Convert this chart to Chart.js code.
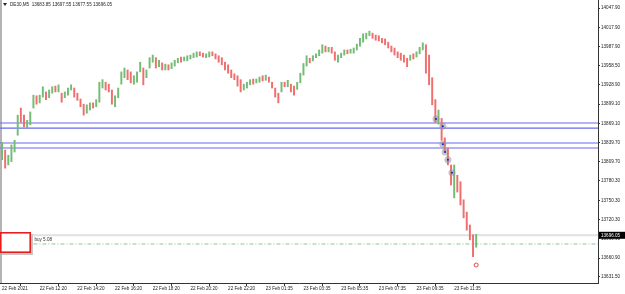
<!DOCTYPE html>
<html>
<head>
<meta charset="utf-8">
<script src="https://cdn.jsdelivr.net/npm/chart.js@4"></script>
<style>
  html, body { margin: 0; padding: 0; background: #fff; }
  canvas { display: block; }
</style>
</head>
<body>
<canvas id="chart" width="625" height="294"></canvas>
<script>
// DE30 M5 bars (prices)
var symbol = 'DE30,M5';
var firstOpen = 13815;

var highs = [
  13840,13828,13820,13836,13843,13882,13893,13882,13874,13887,
  13913,13912,13913,13926,13918,13921,13926,13927,13929,13916,
  13918,13924,13929,13924,13916,13907,13899,13898,13901,13901,
  13906,13933,13937,13933,13930,13921,13912,13924,13949,13955,
  13952,13949,13943,13949,13964,13955,13952,13971,13975,13971,
  13967,13963,13961,13960,13963,13967,13970,13972,13972,13974,
  13975,13978,13980,13980,13978,13977,13980,13980,13977,13974,
  13971,13964,13960,13952,13946,13943,13937,13930,13933,13937,
  13938,13938,13941,13943,13944,13941,13933,13924,13916,13933,
  13933,13936,13930,13927,13933,13947,13962,13974,13970,13974,
  13977,13983,13991,13989,13987,13987,13980,13975,13978,13983,
  13983,13984,13986,13992,14001,14008,14009,14012,14009,14006,
  14005,14001,14000,13995,13989,13986,13980,13978,13975,13970,
  13975,13977,13980,13987,13994,13991,13975,13940,13906,13890,
  13877,13847,13831,13805,13805,13789,13779,13751,13732,13712,
  13697,13697.55
];
var lows = [
  13813,13800,13805,13810,13825,13851,13871,13864,13862,13867,
  13893,13899,13901,13910,13906,13909,13916,13918,13918,13902,
  13909,13913,13921,13910,13905,13895,13882,13885,13890,13893,
  13895,13902,13924,13921,13918,13899,13895,13909,13930,13940,
  13937,13932,13930,13933,13949,13929,13940,13955,13964,13955,
  13957,13952,13952,13952,13954,13958,13963,13964,13966,13966,
  13969,13971,13972,13974,13972,13971,13972,13974,13969,13964,
  13960,13952,13947,13940,13937,13927,13918,13921,13924,13929,
  13930,13932,13933,13935,13936,13933,13924,13910,13901,13918,
  13926,13926,13918,13913,13922,13932,13944,13958,13963,13966,
  13971,13974,13978,13980,13980,13978,13967,13964,13971,13975,
  13977,13978,13978,13983,13989,13995,14000,14005,14001,13998,
  13997,13994,13991,13986,13980,13975,13971,13967,13964,13957,
  13967,13969,13972,13977,13983,13947,13929,13898,13871,13868,
  13843,13825,13805,13774,13754,13763,13743,13723,13704,13689,
  13663,13677.55
];
var closes = [
  13825,13806,13815,13830,13838,13878,13875,13868,13872,13884,
  13908,13902,13905,13922,13910,13918,13923,13920,13926,13905,
  13915,13921,13925,13914,13907,13898,13886,13893,13897,13895,
  13904,13930,13933,13925,13920,13902,13908,13920,13945,13950,
  13940,13935,13940,13946,13958,13932,13948,13966,13968,13958,
  13962,13955,13958,13955,13960,13965,13968,13967,13970,13972,
  13973,13976,13978,13976,13974,13975,13978,13976,13971,13966,
  13962,13954,13949,13942,13939,13930,13922,13928,13931,13934,
  13932,13936,13939,13937,13942,13935,13926,13912,13905,13930,
  13928,13933,13921,13916,13930,13944,13959,13968,13965,13972,
  13975,13981,13987,13983,13985,13980,13969,13973,13976,13981,
  13979,13982,13984,13990,13998,14005,14007,14008,14003,14000,
  13999,13996,13993,13988,13982,13977,13973,13970,13966,13960,
  13972,13970,13976,13985,13990,13950,13932,13902,13875,13885,
  13848,13830,13808,13778,13796,13768,13748,13727,13708,13692,
  13683.85,13696.05
];

var xLabels = ['22 Feb 2021','22 Feb 12:20','22 Feb 14:20','22 Feb 16:20','22 Feb 18:20',
  '22 Feb 20:20','22 Feb 22:20','23 Feb 01:35','23 Feb 03:35','23 Feb 05:35',
  '23 Feb 07:35','23 Feb 09:35','23 Feb 11:35'];
var xLabelBars = [0,12,24,36,48,60,72,84,96,108,120,132,144];

var yTicks = [14047.90,14017.90,13987.90,13958.50,13928.90,13899.10,13869.10,13839.70,
  13809.70,13780.30,13750.30,13720.30,13690.90,13660.90,13631.50];

// horizontal levels drawn on the chart
var blueLevels = [13869.9, 13862.1, 13838.9, 13831.2];
var buyLevel = 13682.6;
var buyLabel = 'buy 5.08';
var buyStartBar = 10;

// trade markers
var markerBars = [138.2, 140.4, 140.4, 141.1, 142, 143.3];
var markerPrices = [13876, 13865, 13837, 13825, 13813, 13793];
var exitBar = 151;
var exitPrice = 13650;

var xMin = -0.64, xMax = 189.8;
var yMin = 13622.2, yMax = 14060.3;

var FONT = 'Liberation Sans';
var last = closes.length - 1;

var bars = [], barColors = [];
for (var i = 0; i < highs.length; i++) {
  var open = i === 0 ? firstOpen : closes[i - 1];
  bars.push({ x: i, y: [lows[i], highs[i]] });
  barColors.push(closes[i] >= open ? 'rgb(115,188,115)' : 'rgb(240,110,110)');
}

function hline(price, from) {
  return [{ x: from, y: price }, { x: xMax, y: price }];
}

var datasets = [
  {
    type: 'bar',
    data: bars,
    backgroundColor: barColors,
    barThickness: 1.3,
    grouped: false,
    order: 1
  }
];
blueLevels.forEach(function (p) {
  datasets.push({
    type: 'line', data: hline(p, xMin), borderColor: 'rgb(105,105,245)',
    borderWidth: 1.2, pointRadius: 0, order: 3
  });
});
datasets.push({
  type: 'line', data: hline(closes[last], xMin), borderColor: 'rgb(225,225,225)',
  borderWidth: 2, pointRadius: 0, order: 4
});
datasets.push({
  type: 'line', data: hline(buyLevel, buyStartBar), borderColor: 'rgb(140,200,140)',
  borderWidth: 1, borderDash: [4, 2, 1, 2], pointRadius: 0, order: 3
});
datasets.push({
  type: 'scatter',
  data: markerBars.map(function (b, i) { return { x: b, y: markerPrices[i] }; }),
  pointRadius: 3.5, pointBackgroundColor: 'rgba(150,150,150,0.55)',
  pointBorderWidth: 0, order: 0
});
datasets.push({
  type: 'scatter',
  data: markerBars.map(function (b, i) { return { x: b, y: markerPrices[i] }; }),
  pointRadius: 1, pointBackgroundColor: 'rgb(30,30,200)',
  pointBorderWidth: 0, order: -1
});
datasets.push({
  type: 'scatter',
  data: [{ x: exitBar, y: exitPrice }],
  pointRadius: 2, pointBackgroundColor: 'rgba(255,255,255,1)',
  pointBorderColor: 'rgb(230,70,70)', pointBorderWidth: 1, order: 0
});

var overlay = {
  id: 'overlay',
  beforeDraw: function (chart) {
    var c = chart.ctx;
    c.save();
    c.fillStyle = '#b4b4b4';
    c.fillRect(0, 0, 2, chart.chartArea.bottom);
    c.restore();
  },
  afterDraw: function (chart) {
    var c = chart.ctx, x = chart.scales.x, y = chart.scales.y;
    c.save();
    // header
    c.fillStyle = '#222';
    c.beginPath();
    c.moveTo(3, 3); c.lineTo(7, 3); c.lineTo(5, 6); c.closePath(); c.fill();
    c.font = '4.6px ' + FONT;
    c.textBaseline = 'middle';
    var o = closes[last - 1];
    c.fillText(symbol + '  ' + o.toFixed(2) + ' ' + highs[last].toFixed(2) + ' ' +
      lows[last].toFixed(2) + ' ' + closes[last].toFixed(2), 10, 4.5);

    // buy label
    c.fillStyle = '#333';
    c.fillText(buyLabel, x.getPixelForValue(buyStartBar) + 1, y.getPixelForValue(buyLevel) - 4.5);

    // trade panel box
    c.fillStyle = '#c8c8c8';
    c.fillRect(2, 234, 31, 21);
    c.fillStyle = '#fff';
    c.fillRect(0, 232, 31, 21);
    c.strokeStyle = 'rgb(230,30,30)';
    c.lineWidth = 1.6;
    c.strokeRect(0.8, 232.8, 29.4, 19.4);

    // current price box
    var py = y.getPixelForValue(closes[last]);
    c.fillStyle = '#000';
    c.fillRect(599, py - 3.5, 26, 7);
    c.fillStyle = '#fff';
    c.font = '4.6px ' + FONT;
    c.fillText(closes[last].toFixed(2), 601, py);
    c.restore();
  }
};

function noPad(s) {
  s.paddingLeft = 0; s.paddingRight = 0; s.paddingTop = 0; s.paddingBottom = 0;
}

new Chart(document.getElementById('chart').getContext('2d'), {
  type: 'bar',
  data: { datasets: datasets },
  plugins: [overlay],
  options: {
    responsive: false,
    animation: false,
    devicePixelRatio: 1,
    layout: { padding: 0, autoPadding: false },
    plugins: { legend: { display: false }, tooltip: { enabled: false } },
    scales: {
      x: {
        type: 'linear',
        min: xMin,
        max: xMax,
        offset: false,
        grid: { drawOnChartArea: false, drawTicks: true, tickLength: 3, color: '#333' },
        border: { display: true, color: '#333' },
        ticks: {
          align: 'start',
          padding: 0,
          maxRotation: 0,
          autoSkip: false,
          color: '#222',
          font: { family: FONT, size: 4.6 },
          callback: function (v, i) { return xLabels[i]; }
        },
        afterBuildTicks: function (s) {
          s.ticks = xLabelBars.map(function (v) { return { value: v }; });
        },
        afterFit: function (s) { s.height = 11; noPad(s); }
      },
      y: {
        position: 'right',
        min: yMin,
        max: yMax,
        grid: { drawOnChartArea: false, drawTicks: true, tickLength: 2, color: '#333' },
        border: { display: true, color: '#333' },
        ticks: {
          padding: 1,
          color: '#222',
          font: { family: FONT, size: 4.6 },
          callback: function (v) { return v.toFixed(2); }
        },
        afterBuildTicks: function (s) {
          s.ticks = yTicks.map(function (v) { return { value: v }; });
        },
        afterFit: function (s) { s.width = 27; noPad(s); }
      }
    }
  }
});
</script>
</body>
</html>
